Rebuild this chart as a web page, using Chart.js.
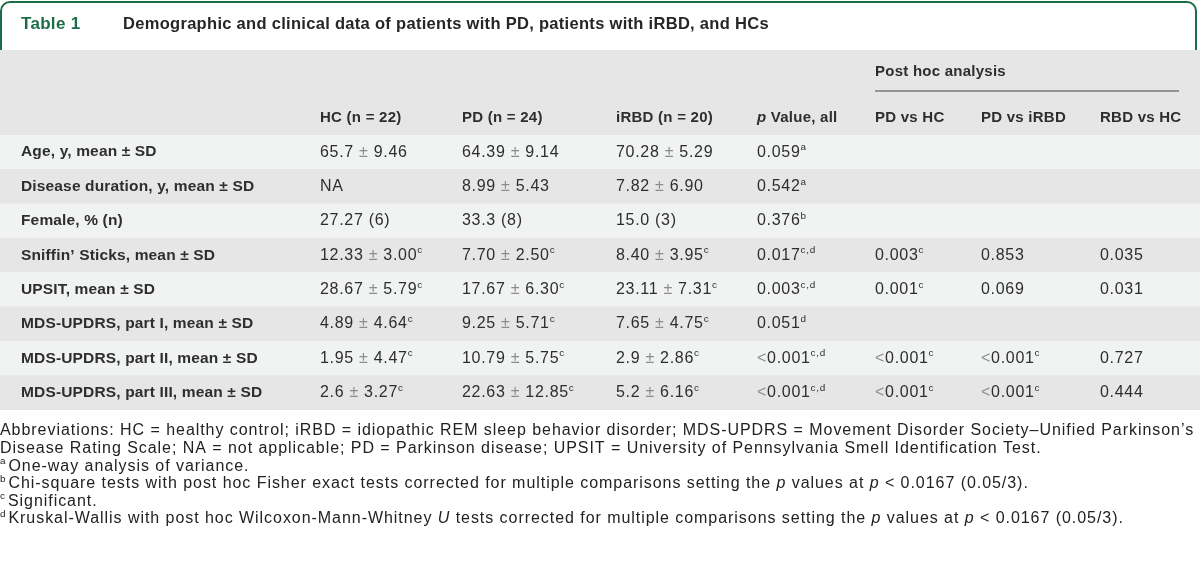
<!DOCTYPE html>
<html><head><meta charset="utf-8">
<script src="https://cdn.jsdelivr.net/npm/chart.js@4.4.1/dist/chart.umd.min.js"></script>
<style>html,body{margin:0;padding:0;background:#fff;overflow:hidden}#wrap{width:1200px;height:561px;position:relative}</style>
</head><body><div id="wrap"><canvas id="c" width="1200" height="561"></canvas></div>
<script>
// ---------- data ----------
const tableNumber = 'Table 1';
const tableTitle = 'Demographic and clinical data of patients with PD, patients with iRBD, and HCs';
const groupHeader = 'Post hoc analysis';
const columnHeaders = ['HC (n = 22)', 'PD (n = 24)', 'iRBD (n = 20)', '_{p} Value, all', 'PD vs HC', 'PD vs iRBD', 'RBD vs HC'];
const rowLabels = ['Age, y, mean ± SD', 'Disease duration, y, mean ± SD', 'Female, % (n)', 'Sniffin’ Sticks, mean ± SD', 'UPSIT, mean ± SD', 'MDS-UPDRS, part I, mean ± SD', 'MDS-UPDRS, part II, mean ± SD', 'MDS-UPDRS, part III, mean ± SD'];
const hcValues = ['65.7 ± 9.46', 'NA', '27.27 (6)', '12.33 ± 3.00^{c}', '28.67 ± 5.79^{c}', '4.89 ± 4.64^{c}', '1.95 ± 4.47^{c}', '2.6 ± 3.27^{c}'];
const pdValues = ['64.39 ± 9.14', '8.99 ± 5.43', '33.3 (8)', '7.70 ± 2.50^{c}', '17.67 ± 6.30^{c}', '9.25 ± 5.71^{c}', '10.79 ± 5.75^{c}', '22.63 ± 12.85^{c}'];
const irbdValues = ['70.28 ± 5.29', '7.82 ± 6.90', '15.0 (3)', '8.40 ± 3.95^{c}', '23.11 ± 7.31^{c}', '7.65 ± 4.75^{c}', '2.9 ± 2.86^{c}', '5.2 ± 6.16^{c}'];
const pValuesAll = ['0.059^{a}', '0.542^{a}', '0.376^{b}', '0.017^{c,d}', '0.003^{c,d}', '0.051^{d}', '<0.001^{c,d}', '<0.001^{c,d}'];
const pdVsHc = ['', '', '', '0.003^{c}', '0.001^{c}', '', '<0.001^{c}', '<0.001^{c}'];
const pdVsIrbd = ['', '', '', '0.853', '0.069', '', '<0.001^{c}', '<0.001^{c}'];
const rbdVsHc = ['', '', '', '0.035', '0.031', '', '0.727', '0.444'];
const footnotes = [
  'Abbreviations: HC = healthy control; iRBD = idiopathic REM sleep behavior disorder; MDS-UPDRS = Movement Disorder Society–Unified Parkinson’s',
  'Disease Rating Scale; NA = not applicable; PD = Parkinson disease; UPSIT = University of Pennsylvania Smell Identification Test.',
  '^{a}One-way analysis of variance.',
  '^{b}Chi-square tests with post hoc Fisher exact tests corrected for multiple comparisons setting the _{p} values at _{p} < 0.0167 (0.05/3).',
  '^{c}Significant.',
  '^{d}Kruskal-Wallis with post hoc Wilcoxon-Mann-Whitney _{U} tests corrected for multiple comparisons setting the _{p} values at _{p} < 0.0167 (0.05/3).'
];
const valueColumns = [hcValues, pdValues, irbdValues, pValuesAll, pdVsHc, pdVsIrbd, rbdVsHc];

// ---------- layout & style ----------
const LAYOUT = {
  xMin: 0, xMax: 1200,
  headerTop: 50, bodyTop: 135, bodyBottom: 410,
  labelX: 21,
  colX: [320, 462, 616, 757, 875, 981, 1100],
  groupX: [875, 1179], groupY: 72, groupLineY: 91, colHeadY: 118,
  titleY: 24, numberX: 21, titleX: 123,
  frame: {left: 1, right: 1196, top: 2, bottom: 50, r: 9},
  footTop: 431, footStep: 17.6, footX: 0
};
const STYLE = {
  family: '"Liberation Sans", Arial, sans-serif',
  green: '#1c6c49', text: '#2e2e2e', light: '#8c8c8c',
  bandDark: '#e6e6e6', bandLight: '#f1f2f2',
  valueSize: 16, valueLS: 0.7, labelSize: 15.5, labelLS: 0.15, headSize: 15, headLS: 0.25,
  footSize: 16, footLS: 0.95, footColor: '#222'
};

function drawRich(ctx, str, x, y, o) {
  const parts = str.split(/(\^\{[^}]*\}|_\{[^}]*\})/).filter(s => s.length);
  let cx = x;
  const base = (it, sz) => `${it ? 'italic ' : ''}${o.weight || 'normal'} ${sz}px ${STYLE.family}`;
  ctx.save();
  ctx.textBaseline = 'middle';
  ctx.textAlign = 'left';
  if ('letterSpacing' in ctx) ctx.letterSpacing = (o.ls || 0) + 'px';
  for (const p of parts) {
    if (p.startsWith('^{')) {
      const t = p.slice(2, -1);
      const sz = o.size * 0.62;
      ctx.font = base(false, sz);
      ctx.fillStyle = o.color;
      ctx.fillText(t, cx, y - o.size * 0.3);
      cx += ctx.measureText(t).width + (o.supGap || 1);
    } else if (p.startsWith('_{')) {
      const t = p.slice(2, -1);
      ctx.font = base(true, o.size);
      ctx.fillStyle = o.color;
      ctx.fillText(t, cx, y);
      cx += ctx.measureText(t).width;
    } else {
      const segs = o.lightSym ? p.split(/([±<])/) : [p];
      for (const s of segs) {
        if (!s) continue;
        ctx.font = base(false, o.size);
        ctx.fillStyle = (o.lightSym && (s === '±' || s === '<')) ? STYLE.light : o.color;
        ctx.fillText(s, cx, y);
        cx += ctx.measureText(s).width;
      }
    }
  }
  ctx.restore();
  return cx;
}

const tablePlugin = {
  id: 'tableText',
  beforeDatasetsDraw(chart) {
    const {ctx, chartArea} = chart;
    ctx.save();
    ctx.fillStyle = STYLE.bandDark;
    ctx.fillRect(chartArea.left, LAYOUT.headerTop, chartArea.right - chartArea.left, chartArea.top - LAYOUT.headerTop);
    ctx.restore();
  },
  afterDraw(chart) {
    const {ctx} = chart;
    const xs = chart.scales.x, ys = chart.scales.y;
    // frame
    const f = LAYOUT.frame;
    ctx.save();
    ctx.strokeStyle = STYLE.green; ctx.lineWidth = 2;
    ctx.beginPath();
    ctx.moveTo(f.left, f.bottom);
    ctx.lineTo(f.left, f.top + f.r);
    ctx.arcTo(f.left, f.top, f.left + f.r, f.top, f.r);
    ctx.lineTo(f.right - f.r, f.top);
    ctx.arcTo(f.right, f.top, f.right, f.top + f.r, f.r);
    ctx.lineTo(f.right, f.bottom);
    ctx.stroke();
    ctx.restore();
    // title
    drawRich(ctx, tableNumber, LAYOUT.numberX, LAYOUT.titleY, {size: 17, weight: 'bold', color: STYLE.green, ls: 0.3});
    drawRich(ctx, tableTitle, LAYOUT.titleX, LAYOUT.titleY, {size: 16.5, weight: 'bold', color: '#262626', ls: 0.3});
    // group header
    drawRich(ctx, groupHeader, xs.getPixelForValue(LAYOUT.groupX[0]), LAYOUT.groupY, {size: STYLE.headSize, weight: 'bold', color: STYLE.text, ls: STYLE.headLS});
    ctx.save();
    ctx.strokeStyle = '#7a7a7a'; ctx.lineWidth = 1.5;
    ctx.beginPath();
    ctx.moveTo(xs.getPixelForValue(LAYOUT.groupX[0]), LAYOUT.groupLineY);
    ctx.lineTo(xs.getPixelForValue(LAYOUT.groupX[1]), LAYOUT.groupLineY);
    ctx.stroke();
    ctx.restore();
    // column headers
    columnHeaders.forEach((h, i) => {
      drawRich(ctx, h, xs.getPixelForValue(LAYOUT.colX[i]), LAYOUT.colHeadY, {size: STYLE.headSize, weight: 'bold', color: STYLE.text, ls: STYLE.headLS});
    });
    // row labels (from the category axis)
    ys.getLabels().forEach((lab, r) => {
      drawRich(ctx, lab, xs.getPixelForValue(LAYOUT.labelX), ys.getPixelForValue(r), {size: STYLE.labelSize, weight: 'bold', color: STYLE.text, ls: STYLE.labelLS});
    });
    // cells
    valueColumns.forEach((col, i) => {
      col.forEach((v, r) => {
        if (!v) return;
        drawRich(ctx, v, xs.getPixelForValue(LAYOUT.colX[i]), ys.getPixelForValue(r), {size: STYLE.valueSize, color: STYLE.text, ls: STYLE.valueLS, lightSym: true});
      });
    });
    // footnotes
    footnotes.forEach((t, i) => {
      drawRich(ctx, t, LAYOUT.footX, LAYOUT.footTop + i * LAYOUT.footStep, {size: STYLE.footSize, color: STYLE.footColor, ls: STYLE.footLS, supGap: 2});
    });
  }
};

new Chart(document.getElementById('c'), {
  type: 'bar',
  data: {
    labels: rowLabels,
    datasets: [{
      data: rowLabels.map(() => [LAYOUT.xMin, LAYOUT.xMax]),
      backgroundColor: rowLabels.map((_, i) => i % 2 ? STYLE.bandDark : STYLE.bandLight),
      borderWidth: 0,
      barPercentage: 1,
      categoryPercentage: 1
    }]
  },
  options: {
    indexAxis: 'y',
    responsive: false,
    animation: false,
    devicePixelRatio: 1,
    layout: {padding: {top: LAYOUT.bodyTop, bottom: 561 - LAYOUT.bodyBottom, left: 0, right: 0}},
    plugins: {legend: {display: false}, tooltip: {enabled: false}},
    scales: {
      x: {type: 'linear', display: false, min: LAYOUT.xMin, max: LAYOUT.xMax},
      y: {type: 'category', display: false}
    }
  },
  plugins: [tablePlugin]
});
</script></body></html>
